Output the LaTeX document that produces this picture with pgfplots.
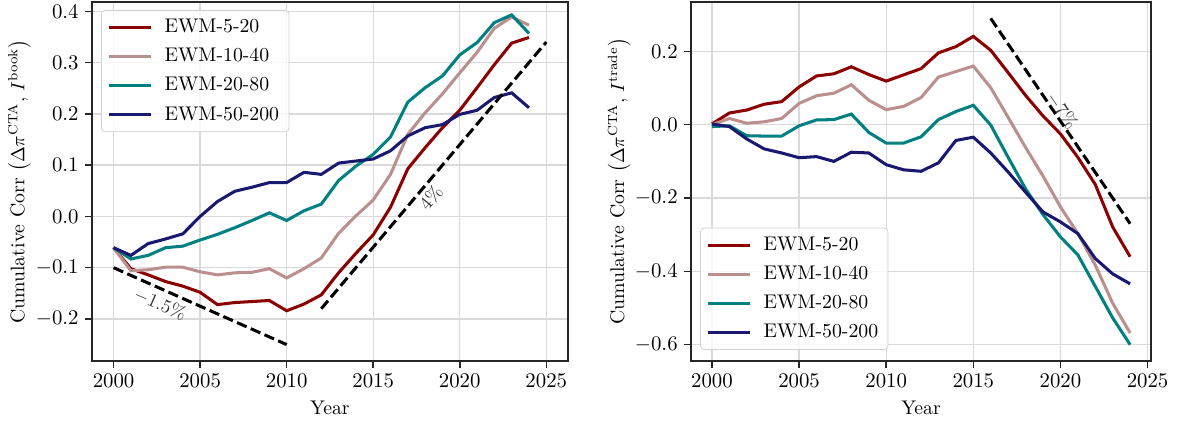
\documentclass[border=0pt]{standalone}
\usepackage{pgfplots}
\usepackage{pgfplotstable}
\pgfplotsset{compat=1.18}

\definecolor{cdarkred}{HTML}{8B0000}
\definecolor{crosy}{HTML}{BC8F8F}
\definecolor{cteal}{HTML}{008080}
\definecolor{cnavy}{HTML}{191970}
\definecolor{cgrid}{HTML}{DADADA}

% Cumulative correlation with book imbalance
\pgfplotstableread{
year   a       b       c       d
2000  -0.061  -0.061  -0.061  -0.061
2001  -0.102  -0.106  -0.083  -0.076
2002  -0.114  -0.104  -0.076  -0.053
2003  -0.127  -0.099  -0.061  -0.044
2004  -0.136  -0.099  -0.058  -0.034
2005  -0.148  -0.108  -0.046   0.000
2006  -0.172  -0.114  -0.035   0.029
2007  -0.168  -0.110  -0.022   0.049
2008  -0.166  -0.109  -0.008   0.057
2009  -0.164  -0.102   0.007   0.066
2010  -0.184  -0.120  -0.008   0.066
2011  -0.171  -0.102   0.011   0.086
2012  -0.153  -0.081   0.024   0.082
2013  -0.110  -0.033   0.070   0.104
2014  -0.072   0.001   0.098   0.108
2015  -0.036   0.032   0.121   0.112
2016   0.018   0.082   0.155   0.128
2017   0.093   0.160   0.223   0.157
2018   0.134   0.202   0.251   0.173
2019   0.173   0.239   0.274   0.179
2020   0.207   0.280   0.315   0.199
2021   0.251   0.320   0.339   0.207
2022   0.296   0.367   0.378   0.232
2023   0.338   0.389   0.393   0.241
2024   0.349   0.373   0.357   0.212
}\bookdata

% Cumulative correlation with trade imbalance
\pgfplotstableread{
year   a       b       c       d
2000   0.002   0.000  -0.005   0.002
2001   0.032   0.017  -0.003  -0.005
2002   0.040   0.004  -0.030  -0.039
2003   0.056   0.008  -0.031  -0.066
2004   0.063   0.017  -0.031  -0.077
2005   0.103   0.058  -0.003  -0.090
2006   0.133   0.079   0.013  -0.087
2007   0.139   0.086   0.014  -0.100
2008   0.158   0.109   0.029  -0.075
2009   0.137   0.067  -0.021  -0.077
2010   0.119   0.041  -0.050  -0.109
2011   0.136   0.050  -0.050  -0.123
2012   0.153   0.074  -0.033  -0.127
2013   0.196   0.130   0.014  -0.104
2014   0.213   0.145   0.036  -0.043
2015   0.241   0.160   0.053  -0.034
2016   0.203   0.101  -0.001  -0.077
2017   0.142   0.020  -0.089  -0.129
2018   0.080  -0.062  -0.175  -0.184
2019   0.024  -0.140  -0.245  -0.238
2020  -0.025  -0.224  -0.306  -0.265
2021  -0.089  -0.297  -0.355  -0.297
2022  -0.163  -0.383  -0.441  -0.365
2023  -0.279  -0.487  -0.527  -0.407
2024  -0.360  -0.568  -0.600  -0.434
}\tradedata

\pgfplotsset{
  panel/.style={
    scale only axis,
    height=188.9pt,
    axis line style={line width=0.9pt, black!85},
    tick pos=left,
    tick align=outside,
    major tick length=3.5pt,
    tick style={line width=0.8pt, black!85},
    tick label style={font=\fontsize{10.5}{12}\selectfont},
    label style={font=\fontsize{10.4}{12}\selectfont},
    grid=major,
    grid style={line width=0.7pt, cgrid},
    xtick={2000,2005,...,2025},
    x tick label style={/pgf/number format/.cd, set thousands separator={}},
    y tick label style={/pgf/number format/.cd, fixed, fixed zerofill, precision=1},
    xlabel={Year},
    x label style={at={(axis description cs:0.5,-0.131)}, anchor=center},
    legend cell align=left,
    legend image code/.code={\draw[#1] (0pt,0pt) -- (22.5pt,0pt); \path (26.5pt,0pt);},
    every axis plot/.append style={line width=1.6pt},
  },
  guide/.style={black, line width=1.6pt, dash pattern=on 5.5pt off 2.4pt},
  legstyle/.style={
    draw=black!18, rounded corners=2pt, fill=white, fill opacity=0.8, text opacity=1,
    inner xsep=3pt, inner ysep=2.5pt, row sep=2.3pt,
    font=\fontsize{10.4}{12}\selectfont,
    nodes={inner sep=2.2pt},
  },
}

\begin{document}
\begin{tikzpicture}
\path[use as bounding box] (-48.4pt,-32.6pt) rectangle (571.6pt,190pt);

\begin{axis}[panel,
  at={(0pt,0pt)}, anchor=south west,
  width=250.5pt,
  xmin=1998.75, xmax=2026.25,
  ymin=-0.282, ymax=0.418,
  ytick={-0.2,-0.1,...,0.41},
  ylabel={Cumulative Corr $\left(\Delta\pi^{\mathrm{CTA}},\, I^{\mathrm{book}}\right)$},
  y label style={at={(axis description cs:-0.152,0.5)}, anchor=center, inner sep=0pt},
  legend style={legstyle, at={(0.019,0.978)}, anchor=north west},
]
\addplot[cdarkred] table[x=year, y=a] {\bookdata};
\addplot[crosy]    table[x=year, y=b] {\bookdata};
\addplot[cteal]    table[x=year, y=c] {\bookdata};
\addplot[cnavy]    table[x=year, y=d] {\bookdata};
\legend{EWM-5-20, EWM-10-40, EWM-20-80, EWM-50-200}
\addplot[guide, forget plot] coordinates {(2000,-0.10) (2010,-0.25)};
\addplot[guide, forget plot] coordinates {(2012,-0.18) (2025,0.34)};
\node[black!80, rotate=-24, font=\fontsize{10.4}{12}\selectfont] at (axis cs:2002.7,-0.170) {$-1.5\%$};
\node[black!80, rotate=50, font=\fontsize{10.4}{12}\selectfont] at (axis cs:2018.33,0.036) {$4\%$};
\end{axis}

\begin{axis}[panel,
  at={(315.3pt,0pt)}, anchor=south west,
  width=242.1pt,
  xmin=1998.8, xmax=2025.2,
  ymin=-0.6445, ymax=0.3345,
  ytick={-0.6,-0.4,...,0.21},
  ylabel={Cumulative Corr $\left(\Delta\pi^{\mathrm{CTA}},\, I^{\mathrm{trade}}\right)$},
  y label style={at={(axis description cs:-0.156,0.5)}, anchor=center, inner sep=0pt},
  legend style={legstyle, at={(0.0196,0.031)}, anchor=south west},
]
\addplot[cdarkred] table[x=year, y=a] {\tradedata};
\addplot[crosy]    table[x=year, y=b] {\tradedata};
\addplot[cteal]    table[x=year, y=c] {\tradedata};
\addplot[cnavy]    table[x=year, y=d] {\tradedata};
\legend{EWM-5-20, EWM-10-40, EWM-20-80, EWM-50-200}
\addplot[guide, forget plot] coordinates {(2016,0.29) (2024,-0.27)};
\node[black!80, rotate=-56, font=\fontsize{10.4}{12}\selectfont] at (axis cs:2020.1,0.038) {$-7\%$};
\end{axis}
\end{tikzpicture}
\end{document}
